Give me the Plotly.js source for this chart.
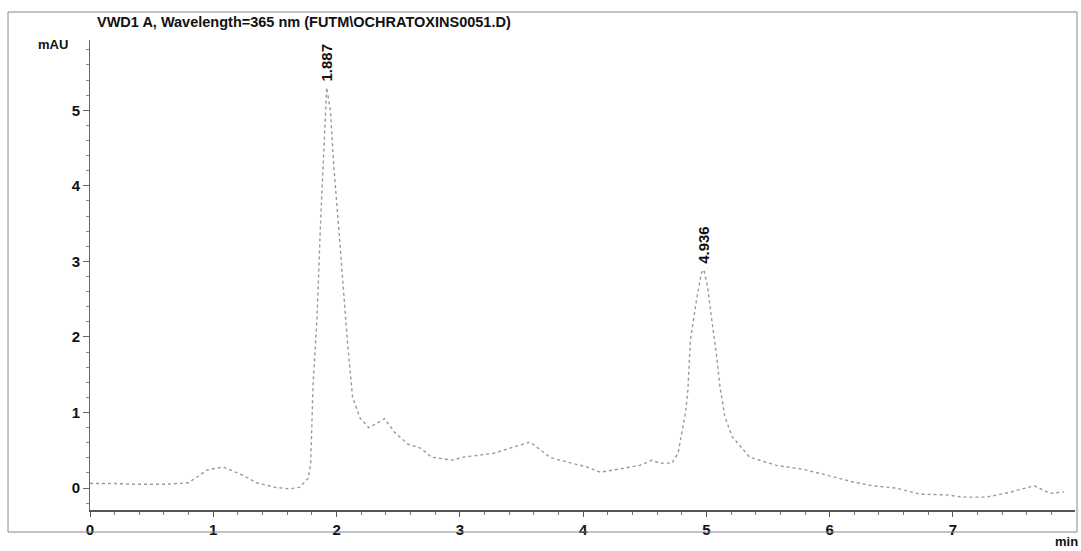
<!DOCTYPE html>
<html>
<head>
<meta charset="utf-8">
<script src="https://cdn.plot.ly/plotly-3.0.1.min.js"></script>
<style>html,body{margin:0;padding:0;background:#fff;}#chart{width:1081px;height:551px;}</style>
</head>
<body>
<div id="chart"></div>
<script>
// Retention time (min)
const timeMin = [0.0,0.2,0.4,0.6,0.8,0.95,1.08,1.24,1.35,1.5,1.62,1.7,1.77,1.79,1.81,1.84,1.87,1.9,1.92,1.95,1.98,2.01,2.05,2.09,2.13,2.19,2.26,2.32,2.39,2.47,2.58,2.68,2.77,2.94,3.03,3.16,3.27,3.41,3.57,3.73,3.81,4.03,4.14,4.32,4.46,4.56,4.62,4.72,4.77,4.8,4.83,4.85,4.87,4.92,4.96,4.98,5.01,5.04,5.08,5.11,5.15,5.21,5.35,5.57,5.78,5.98,6.19,6.35,6.54,6.73,6.95,7.08,7.27,7.45,7.66,7.79,7.9];
// Absorbance (mAU)
const signal = [0.06,0.06,0.05,0.05,0.07,0.24,0.28,0.17,0.07,0.01,-0.01,0.01,0.13,0.33,1.4,2.2,3.5,4.7,5.3,5.0,4.2,3.6,2.7,1.9,1.2,0.93,0.8,0.85,0.92,0.74,0.58,0.53,0.41,0.37,0.41,0.44,0.46,0.53,0.61,0.41,0.37,0.28,0.21,0.26,0.3,0.37,0.33,0.33,0.46,0.73,0.99,1.3,1.96,2.49,2.85,2.89,2.66,2.27,1.79,1.34,0.94,0.68,0.41,0.3,0.25,0.17,0.08,0.03,0.0,-0.08,-0.09,-0.12,-0.12,-0.06,0.03,-0.07,-0.05];
// Peak labels
const peakTimes = [1.92, 4.98];
const peakHeights = [5.3, 2.89];
const peakLabels = ["1.887", "4.936"];
const xTickVals = [0,1,2,3,4,5,6,7];
const yTickVals = [0,1,2,3,4,5];
const titleText = "VWD1 A, Wavelength=365 nm (FUTM\\OCHRATOXINS0051.D)";

const FONT = "Liberation Sans, Arial, sans-serif";

const trace = {
  x: timeMin, y: signal, type: 'scatter', mode: 'lines',
  line: {color: '#999999', width: 1.4, dash: 'dot'},
  hoverinfo: 'skip'
};

const annotations = peakTimes.map((t, i) => ({
  x: t, y: peakHeights[i] + 0.05, xref: 'x', yref: 'y',
  text: '<b>' + peakLabels[i] + '</b>', showarrow: false,
  textangle: -90, xanchor: 'center', yanchor: 'bottom',
  font: {family: FONT, size: 15, color: '#111'}
}));
annotations.push({
  xref: 'paper', yref: 'paper', x: (95 - 90) / 985, y: (510 - 22) / 470,
  xanchor: 'left', yanchor: 'middle', showarrow: false,
  text: '<b>' + titleText + '</b>', font: {family: FONT, size: 14.5, color: '#111'}
});
annotations.push({
  xref: 'paper', yref: 'paper', x: (53 - 90) / 985, y: (510 - 45) / 470,
  xanchor: 'center', yanchor: 'middle', showarrow: false,
  text: '<b>mAU</b>', font: {family: FONT, size: 13, color: '#111'}
});
annotations.push({
  xref: 'paper', yref: 'paper', x: (1066 - 90) / 985, y: (510 - 541) / 470,
  xanchor: 'center', yanchor: 'middle', showarrow: false,
  text: '<b>min</b>', font: {family: FONT, size: 13, color: '#111'}
});

const layout = {
  width: 1081, height: 551,
  margin: {l: 90, r: 6, t: 40, b: 41},
  paper_bgcolor: '#fff', plot_bgcolor: '#fff',
  showlegend: false,
  xaxis: {
    range: [0, 7.99], tickvals: xTickVals, ticktext: xTickVals.map(v => '<b>' + v + '</b>'),
    showline: true, linecolor: '#555', linewidth: 1.5, mirror: false,
    ticks: 'outside', ticklen: 5, tickcolor: '#555', tickwidth: 1,
    minor: {dtick: 0.2, ticks: 'outside', ticklen: 3, tickcolor: '#777', showgrid: false},
    showgrid: false, zeroline: false,
    tickfont: {family: FONT, size: 15, color: '#111'}
  },
  yaxis: {
    range: [-0.29, 5.93], tickvals: yTickVals, ticktext: yTickVals.map(v => '<b>' + v + '</b>'),
    showline: true, linecolor: '#666', linewidth: 1, mirror: false,
    ticks: 'outside', ticklen: 6, tickcolor: '#666', tickwidth: 1,
    minor: {dtick: 0.2, ticks: 'outside', ticklen: 3, tickcolor: '#888', showgrid: false},
    showgrid: false, zeroline: false,
    tickfont: {family: FONT, size: 15, color: '#111'}
  },
  shapes: [{
    type: 'rect', xref: 'paper', yref: 'paper',
    x0: (8 - 90) / 985, x1: (1077 - 90) / 985,
    y0: (510 - 532) / 470, y1: (510 - 12) / 470,
    line: {color: '#888', width: 1}, fillcolor: 'rgba(0,0,0,0)'
  }],
  annotations: annotations
};

Plotly.newPlot('chart', [trace], layout, {displayModeBar: false, staticPlot: true});
</script>
</body>
</html>
